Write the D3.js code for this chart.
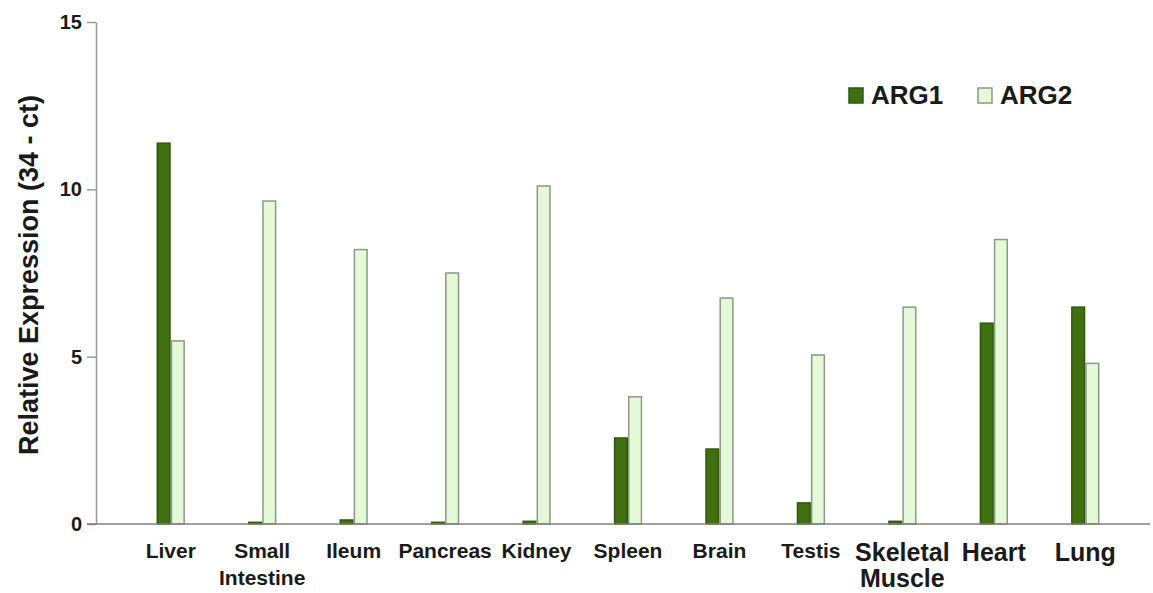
<!DOCTYPE html>
<html>
<head>
<meta charset="utf-8">
<script src="https://cdn.jsdelivr.net/npm/d3@7"></script>
<style>
  html, body { margin: 0; padding: 0; background: #fff; }
  svg { display: block; font-family: "Liberation Sans", Arial, sans-serif; }
</style>
</head>
<body>
<svg id="chart" width="1153" height="593"></svg>
<script>
const categories = ["Liver", "Small Intestine", "Ileum", "Pancreas", "Kidney", "Spleen", "Brain", "Testis", "Skeletal Muscle", "Heart", "Lung"];
const labelLines = [["Liver"], ["Small", "Intestine"], ["Ileum"], ["Pancreas"], ["Kidney"], ["Spleen"], ["Brain"], ["Testis"], ["Skeletal", "Muscle"], ["Heart"], ["Lung"]];
const bigLabels = ["Skeletal Muscle", "Heart", "Lung"];
const seriesNames = ["ARG1", "ARG2"];
const arg1 = [11.38, 0.05, 0.12, 0.05, 0.08, 2.57, 2.24, 0.63, 0.08, 6.0, 6.48];
const arg2 = [5.47, 9.65, 8.2, 7.5, 10.1, 3.8, 6.75, 5.05, 6.48, 8.5, 4.8];
const yTicks = [0, 5, 10, 15];
const yTitle = "Relative Expression (34 - ct)";

const svg = d3.select("#chart");
const y = d3.scaleLinear().domain([0, 15]).range([524, 22]);
const x = d3.scaleBand().domain(categories).range([125, 1131]).paddingInner(0.69).paddingOuter(0.345);
const x1 = d3.scaleBand().domain(seriesNames).range([0, x.bandwidth()]);
const fills = { ARG1: "#3f6f10", ARG2: "#e4f9d8" };
const strokes = { ARG1: "#2f5a0a", ARG2: "#8c9986" };

const rows = categories.map((c, i) => ({ cat: c, vals: [{ s: "ARG1", v: arg1[i] }, { s: "ARG2", v: arg2[i] }] }));

// bars
const g = svg.append("g");
g.selectAll("g.cat").data(rows).join("g")
  .attr("class", "cat")
  .attr("transform", d => `translate(${x(d.cat)},0)`)
  .selectAll("rect").data(d => d.vals).join("rect")
  .attr("x", d => x1(d.s) + 0.75)
  .attr("width", x1.bandwidth() - 1.5)
  .attr("y", d => y(d.v))
  .attr("height", d => y(0) - y(d.v))
  .attr("fill", d => fills[d.s])
  .attr("stroke", d => strokes[d.s])
  .attr("stroke-width", 1.5);

// y axis
const yAxis = d3.axisLeft(y).tickValues(yTicks).tickSize(9).tickSizeOuter(0).tickPadding(5);
const ya = svg.append("g").attr("transform", "translate(96,0)").call(yAxis);
ya.select(".domain").attr("stroke", "#999").attr("stroke-width", 1.5);
ya.selectAll(".tick line").attr("stroke", "#999").attr("stroke-width", 1.5);
ya.selectAll(".tick text").attr("font-size", 20).attr("font-weight", "bold").attr("fill", "#1a1a1a")
  .attr("font-family", "Liberation Sans, Arial, sans-serif");

// x axis baseline
svg.append("line").attr("x1", 87).attr("x2", 1150).attr("y1", y(0)).attr("y2", y(0))
  .attr("stroke", "#7f7f7f").attr("stroke-width", 1.5);

// x labels
const xl = svg.append("g");
categories.forEach((c, i) => {
  const big = bigLabels.includes(c);
  const fs = big ? 25 : 21;
  const t = xl.append("text")
    .attr("x", x(c) + x.bandwidth() / 2)
    .attr("y", big ? 561 : 558)
    .attr("text-anchor", "middle")
    .attr("font-size", fs).attr("font-weight", "bold").attr("fill", "#1a1a1a");
  labelLines[i].forEach((ln, j) => {
    t.append("tspan").attr("x", x(c) + x.bandwidth() / 2).attr("dy", j === 0 ? 0 : (big ? 26 : 27)).text(ln);
  });
});

// y title
svg.append("text")
  .attr("transform", "translate(38,275) rotate(-90)")
  .attr("text-anchor", "middle")
  .attr("font-size", 27).attr("font-weight", "bold").attr("fill", "#1a1a1a")
  .text(yTitle);

// legend
const legendX = [849, 978];
const lg = svg.append("g");
seriesNames.forEach((s, i) => {
  lg.append("rect").attr("x", legendX[i]).attr("y", 88).attr("width", 14).attr("height", 15)
    .attr("fill", fills[s]).attr("stroke", strokes[s]).attr("stroke-width", 1.5);
  lg.append("text").attr("x", legendX[i] + 22).attr("y", 104)
    .attr("font-size", 26).attr("font-weight", "bold").attr("fill", "#1a1a1a").text(s);
});
</script>
</body>
</html>
